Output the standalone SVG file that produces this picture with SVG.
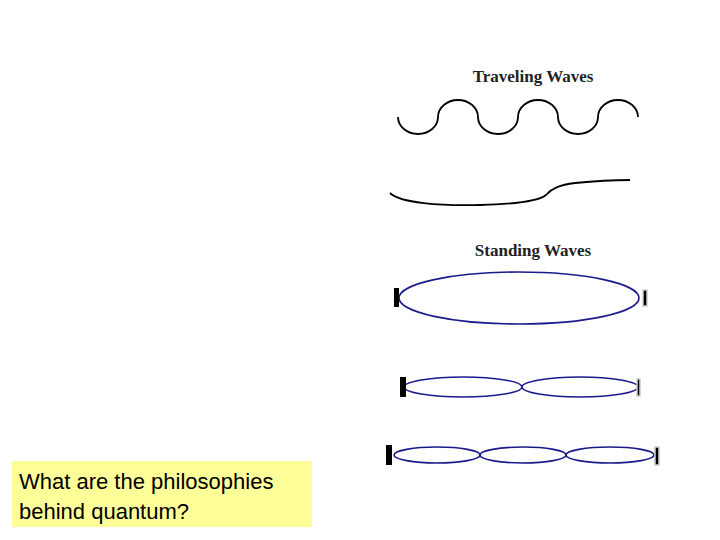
<svg xmlns="http://www.w3.org/2000/svg" width="720" height="540" viewBox="0 0 720 540">
<style>
.t{font-family:"Liberation Serif",serif;font-weight:bold;font-size:17px;fill:#222;text-anchor:middle}
.w{fill:none;stroke:#000;stroke-width:1.8}
.s{fill:none;stroke:#1a1a8c;stroke-width:1.6}
.bl{fill:#000}
.br{fill:#000;stroke:#ccc;stroke-width:1.5}
.q{font-family:"Liberation Sans",Arial,sans-serif;font-size:22px;fill:#000}
</style>
<rect width="720" height="540" fill="#fff"/>
<g id="traveling">
<text class="t" x="533" y="82">Traveling Waves</text>
<path class="w" d="M398,117 A20,17 0 0 0 438,117 A20,17 0 0 1 478,117 A20,17 0 0 0 518,117 A20,17 0 0 1 558,117 A20,17 0 0 0 598,117 A20,17 0 0 1 638,117"/>
<path class="w" d="M390,193 C400,203 440,206 480,205 C520,204 540,200 546,195 C552,188 560,185 575,183 C595,181 615,180 630,180"/>
</g>
<g id="standing">
<text class="t" x="533" y="256">Standing Waves</text>
<ellipse class="s" cx="519" cy="298" rx="120" ry="26"/>
<rect class="bl" x="394" y="288" width="5" height="19"/>
<rect class="br" x="643" y="290" width="4" height="16"/>
<ellipse class="s" cx="463" cy="387" rx="59" ry="10"/>
<ellipse class="s" cx="580" cy="387" rx="58" ry="10"/>
<rect class="bl" x="400" y="377" width="6" height="20"/>
<rect class="br" x="637" y="379" width="3" height="17"/>
<ellipse class="s" cx="437" cy="455" rx="43" ry="8"/>
<ellipse class="s" cx="523" cy="455" rx="43" ry="8"/>
<ellipse class="s" cx="610" cy="455" rx="44" ry="8"/>
<rect class="bl" x="386" y="445" width="6" height="20"/>
<rect class="br" x="655" y="447" width="4" height="18"/>
</g>
<g id="question">
<rect x="12" y="461" width="300" height="66" fill="#ffff99"/>
<text class="q" x="19" y="489">What are the philosophies</text>
<text class="q" x="19" y="519">behind quantum?</text>
</g>
</svg>
